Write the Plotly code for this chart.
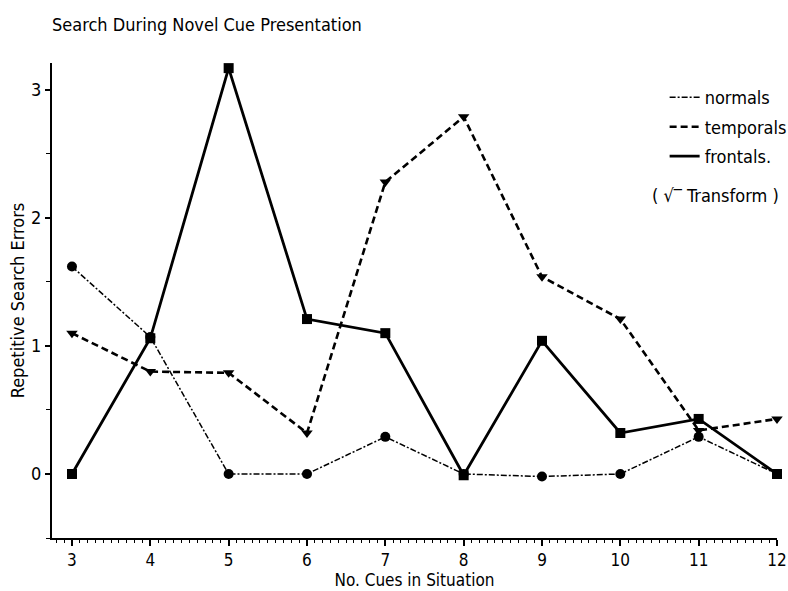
import plotly.graph_objects as go

cues = [3, 4, 5, 6, 7, 8, 9, 10, 11, 12]
normals = [1.62, 1.07, 0.0, 0.0, 0.29, 0.0, -0.02, 0.0, 0.29, 0.0]
temporals = [1.10, 0.80, 0.79, 0.32, 2.28, 2.79, 1.54, 1.21, 0.34, 0.43]
frontals = [0.0, 1.06, 3.17, 1.21, 1.10, -0.01, 1.04, 0.32, 0.43, 0.0]
x_ticks = [3, 4, 5, 6, 7, 8, 9, 10, 11, 12]
y_ticks = [0, 1, 2, 3]

FONT = "DejaVu Sans Condensed"
FS = 18
fig = go.Figure()

series = [
    ("normals", normals, "circle", dict(width=1.5, dash="6px,2px,2px,2px")),
    ("temporals", temporals, "triangle-down", dict(width=2.6, dash="7px,4px")),
    ("frontals.", frontals, "square", dict(width=2.8, dash="solid")),
]
for name, ys, sym, line in series:
    fig.add_trace(go.Scatter(
        x=cues, y=ys, mode="lines+markers", name=name, showlegend=False,
        line=dict(color="black", **line),
        marker=dict(symbol=sym, size=10, color="black"),
        cliponaxis=False,
    ))
    fig.add_trace(go.Scatter(
        x=[None], y=[None], mode="lines", name=name, legendgroup=name,
        line=dict(color="black", **line),
    ))

fig.add_annotation(
    text="( √‾ Transform )", xref="paper", yref="paper",
    x=1.006, y=0.722, xanchor="right", yanchor="middle", showarrow=False,
    font=dict(family=FONT, size=FS, color="black"),
)

fig.update_layout(
    width=788, height=591,
    margin=dict(l=52, r=11, t=63, b=53, autoexpand=False),
    paper_bgcolor="white", plot_bgcolor="white",
    font=dict(family=FONT, size=FS, color="black"),
    title=dict(text="Search During Novel Cue Presentation", x=0.066, xanchor="left",
               y=0.958, yanchor="middle", font=dict(family=FONT, size=FS)),
    legend=dict(x=0.845, y=0.966, xanchor="left", yanchor="top",
                bgcolor="rgba(0,0,0,0)", itemwidth=30, tracegroupgap=3,
                font=dict(family=FONT, size=FS)),
    showlegend=True,
)
fig.update_xaxes(
    range=[2.745, 12.0], tickvals=x_ticks, ticktext=[str(v) for v in x_ticks],
    showgrid=False, zeroline=False, showline=True, linecolor="black", linewidth=2,
    ticks="outside", ticklen=6, tickwidth=2, tickcolor="black", automargin=False,
    ticklabeloverflow="allow",
    minor=dict(dtick=0.1, ticks="outside", ticklen=3, tickwidth=1, tickcolor="black"),
    title=dict(text="No. Cues in Situation", standoff=0, font=dict(size=17)),
    tickfont=dict(size=17),
)
fig.update_yaxes(
    range=[-0.5, 3.21], tickvals=y_ticks, ticktext=[str(v) for v in y_ticks],
    showgrid=False, zeroline=False, showline=True, linecolor="black", linewidth=2,
    ticks="outside", ticklen=5, tickwidth=1.5, tickcolor="black", automargin=False,
    minor=dict(tickvals=[-0.5, 0.5, 1.5, 2.5], ticks="outside", ticklen=4, tickwidth=1, tickcolor="black"),
    title=dict(text="Repetitive Search Errors", standoff=2, font=dict(size=FS)),
    tickfont=dict(size=FS),
)

fig.write_html("out.html")
